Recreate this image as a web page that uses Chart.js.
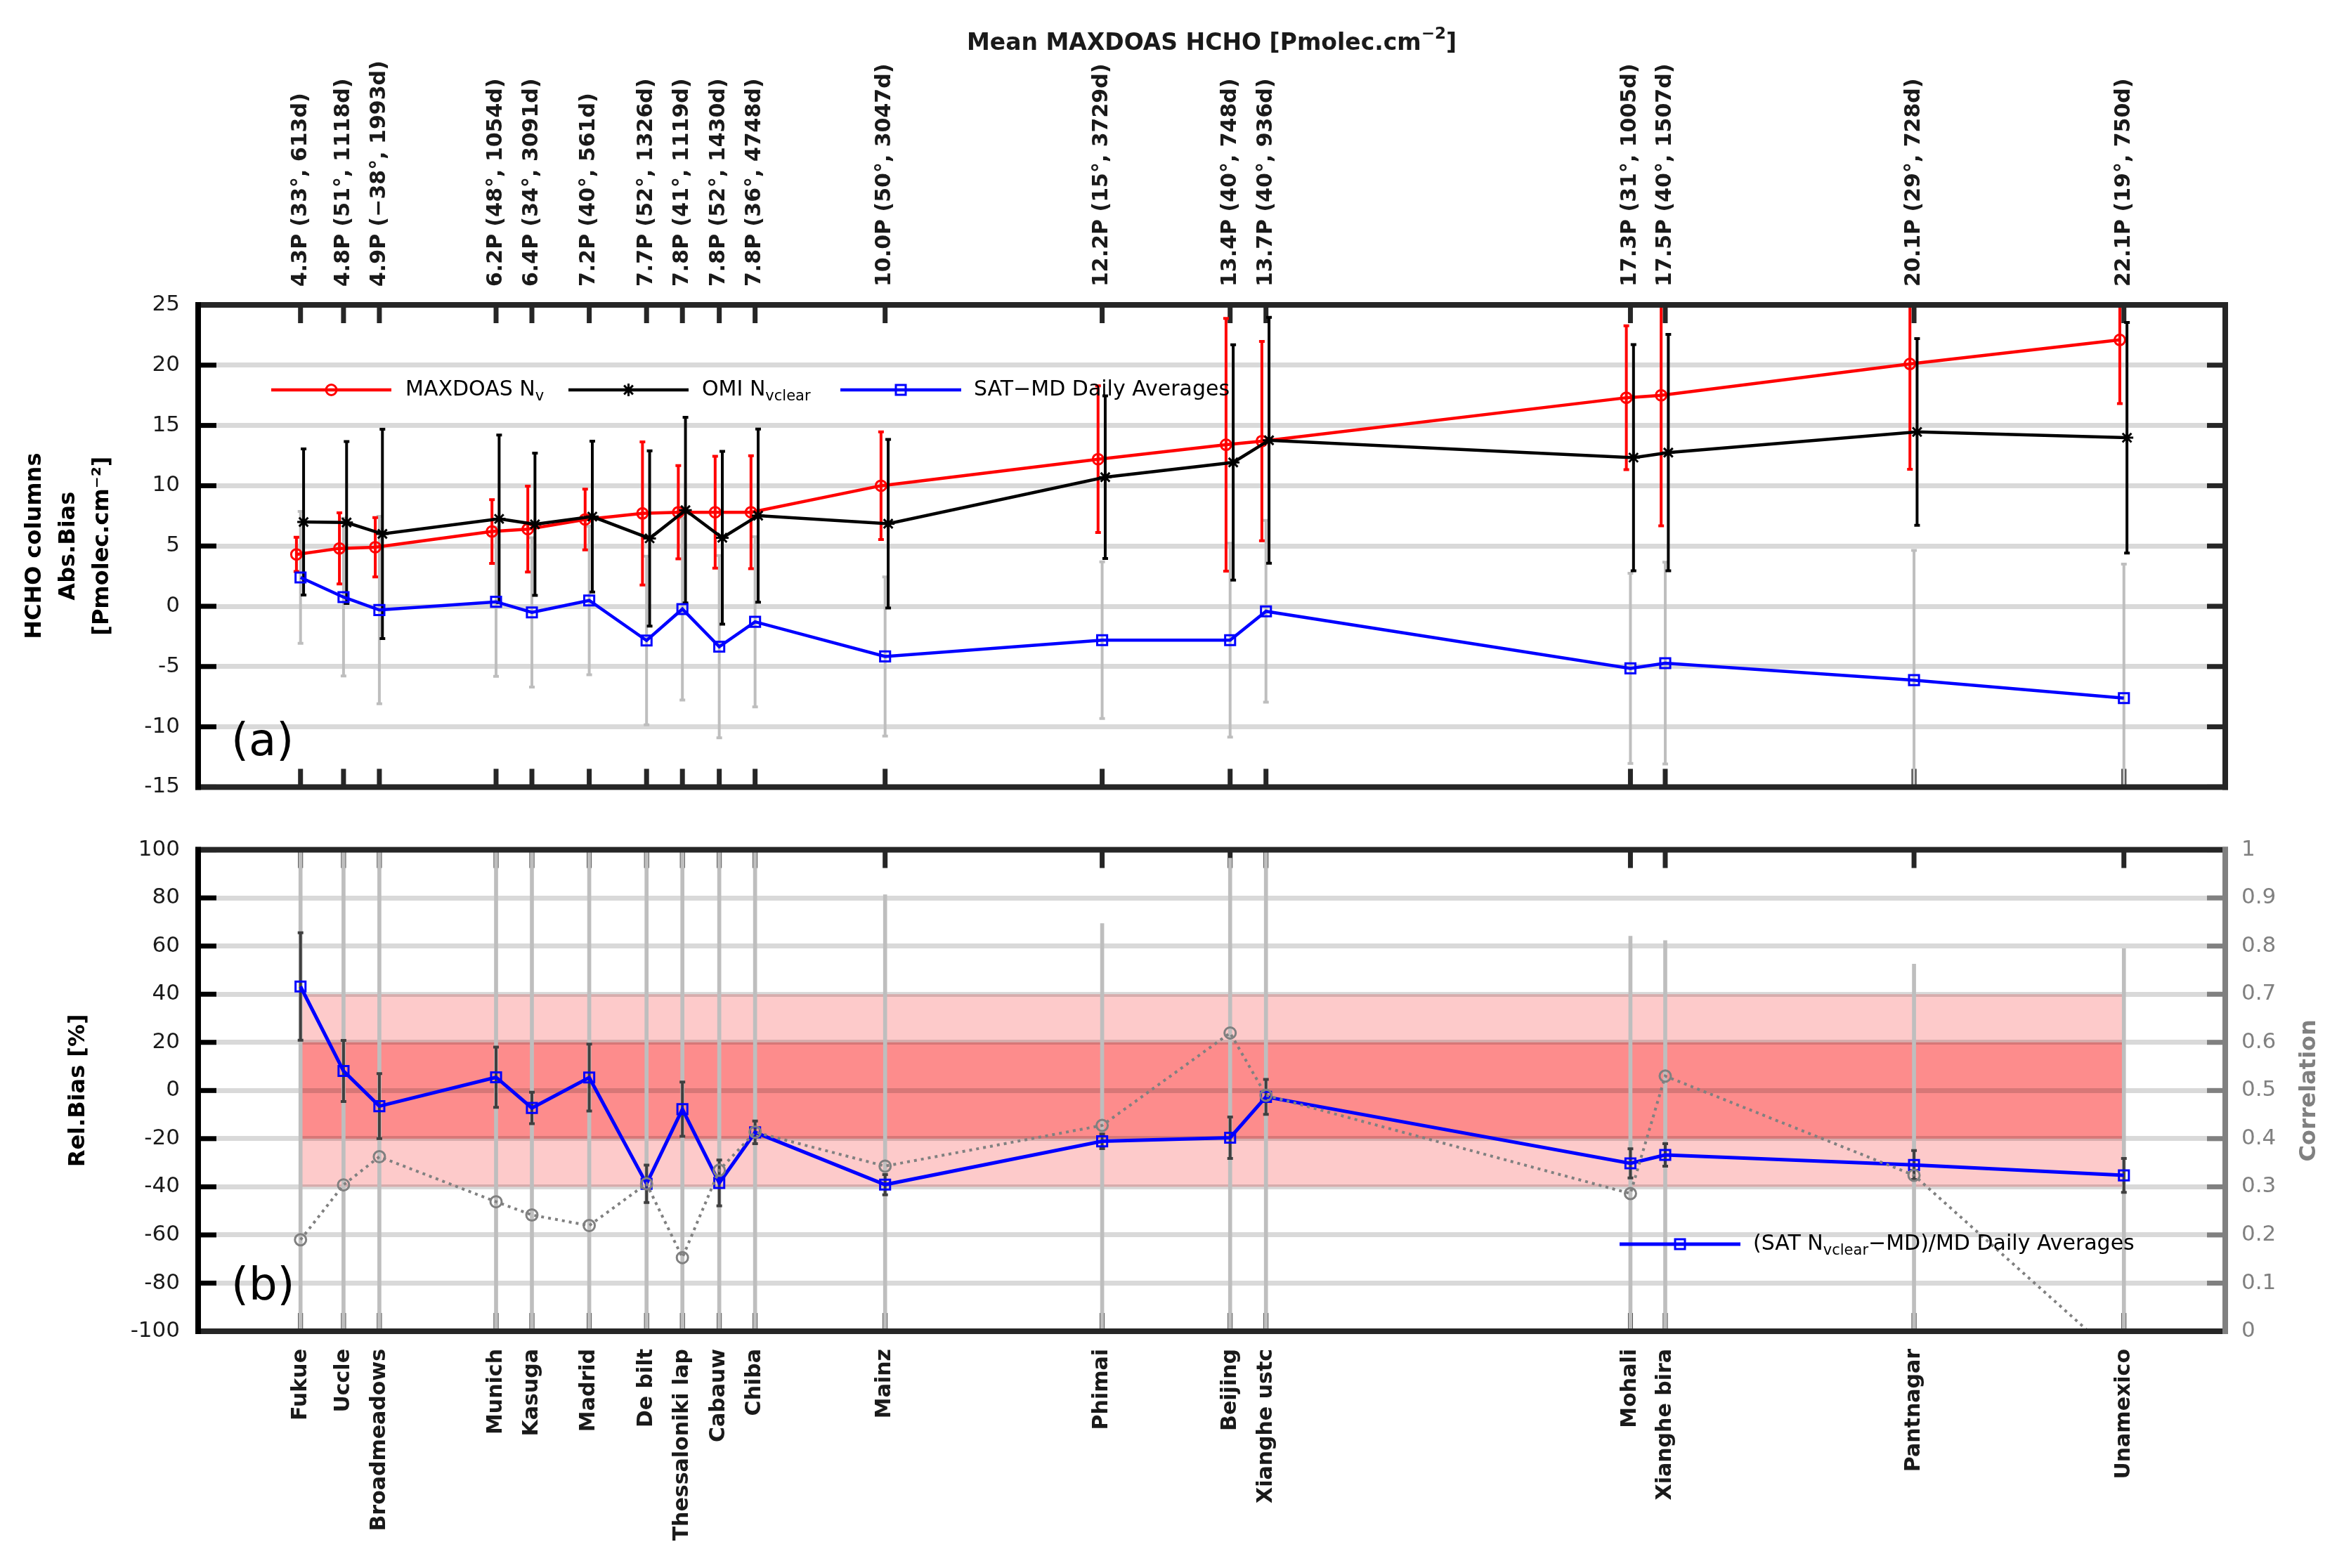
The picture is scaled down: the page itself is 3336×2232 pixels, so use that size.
<!DOCTYPE html>
<html>
<head>
<meta charset="utf-8">
<script src="https://cdn.jsdelivr.net/npm/chart.js@4/dist/chart.umd.min.js"></script>
<style>
html, body { margin: 0; padding: 0; background: #fff; }
#wrap { position: relative; width: 3336px; height: 2232px; }
canvas { position: absolute; left: 0; }
</style>
</head>
<body>
<div id="wrap">
  <canvas id="chartA" width="3336" height="1165" style="top:0"></canvas>
  <canvas id="chartB" width="3336" height="1067" style="top:1165px"></canvas>
</div>
<script>
// sites, in plotting order
const sites = ['Fukue', 'Uccle', 'Broadmeadows', 'Munich', 'Kasuga', 'Madrid', 'De bilt', 'Thessaloniki lap',
  'Cabauw', 'Chiba', 'Mainz', 'Phimai', 'Beijing', 'Xianghe ustc', 'Mohali', 'Xianghe bira', 'Pantnagar', 'Unamexico'];
// position on the mean-HCHO axis (spread a little where sites overlap)
const sitePos = [4.30, 4.72, 5.07, 6.21, 6.56, 7.12, 7.68, 8.03, 8.39, 8.74, 10.01, 12.13, 13.38, 13.73, 17.29, 17.63, 20.06, 22.11];
const mdMean = [4.3, 4.8, 4.9, 6.2, 6.4, 7.2, 7.7, 7.8, 7.8, 7.8, 10.0, 12.2, 13.4, 13.7, 17.3, 17.5, 20.1, 22.1];
const siteLat = [33, 51, -38, 48, 34, 40, 52, 41, 52, 36, 50, 15, 40, 40, 31, 40, 29, 19];
const siteDays = [613, 1118, 1993, 1054, 3091, 561, 1326, 1119, 1430, 4748, 3047, 3729, 748, 936, 1005, 1507, 728, 750];

// panel (a)
const mdSd = [1.42, 2.95, 2.46, 2.65, 3.56, 2.52, 5.94, 3.87, 4.64, 4.68, 4.46, 6.08, 10.48, 8.27, 5.96, 10.83, 8.74, 5.29];
const omiMean = [6.99, 6.95, 6.0, 7.25, 6.8, 7.44, 5.63, 7.97, 5.68, 7.52, 6.85, 10.71, 11.93, 13.77, 12.33, 12.75, 14.46, 13.98];
const omiSd = [6.06, 6.72, 8.68, 6.96, 5.9, 6.26, 7.27, 7.7, 7.17, 7.18, 6.99, 6.75, 9.76, 10.2, 9.38, 9.8, 7.74, 9.57];
const satDiff = [2.39, 0.76, -0.31, 0.37, -0.51, 0.48, -2.84, -0.23, -3.35, -1.29, -4.16, -2.81, -2.81, -0.42, -5.15, -4.72, -6.13, -7.62];
const satDiffSd = [5.47, 6.54, 7.77, 6.18, 6.19, 6.16, 6.99, 7.55, 7.56, 7.06, 6.6, 6.5, 8.04, 7.54, 7.89, 8.37, 10.77, 11.11];

// panel (b)
const relBias = [43.2, 8.1, -6.5, 5.5, -7.25, 5.4, -38.75, -7.75, -38.4, -17.4, -39.1, -21.1, -19.6, -2.65, -30.25, -26.75, -30.95, -35.25];
const relBiasSd = [22.3, 12.7, 13.5, 12.5, 6.55, 13.9, 7.75, 11.25, 9.5, 4.7, 4.2, 3.0, 8.6, 7.25, 6.05, 4.65, 6.05, 7.05];
const corr = [0.19, 0.304, 0.3625, 0.269, 0.2415, 0.2195, 0.3065, 0.153, 0.3345, 0.4135, 0.343, 0.4275, 0.6195, 0.49, 0.286, 0.53, 0.324, -0.066];
const corrStemTop = [105, 105, 105, 105, 105, 105, 105, 105, 105, 105, 81.3, 69.4, 96.5, 105, 64.1, 62.3, 52.5, 58.9];
const bands = [[-40, 40, '#fdcaca'], [-20, 20, '#fd8c8c']];

// axes
const xRange = [3.3, 23.1];
const absTicks = [-15, -10, -5, 0, 5, 10, 15, 20, 25];
const relTicks = [-100, -80, -60, -40, -20, 0, 20, 40, 60, 80, 100];
const corrTicks = [0, 0.1, 0.2, 0.3, 0.4, 0.5, 0.6, 0.7, 0.8, 0.9, 1];

const FONT = 'DejaVu Sans';
const FRAME = '#262626';
Chart.defaults.font.family = FONT;
Chart.defaults.color = '#1a1a1a';

const pts = (ys, shift) => sitePos.map((x, i) => ({ x: x + (shift || 0), y: ys[i] }));

// small marker painter, used by the legends
function marker(ctx, style, x, y, color) {
  ctx.save();
  ctx.strokeStyle = color;
  ctx.lineWidth = 3;
  ctx.beginPath();
  if (style === 'circle') {
    ctx.arc(x, y, 7.5, 0, Math.PI * 2);
  } else if (style === 'rect') {
    ctx.rect(x - 7, y - 7, 14, 14);
  } else {
    const r = 9;
    ctx.moveTo(x - r, y); ctx.lineTo(x + r, y);
    ctx.moveTo(x, y - r); ctx.lineTo(x, y + r);
    const d = r * 0.707;
    ctx.moveTo(x - d, y - d); ctx.lineTo(x + d, y + d);
    ctx.moveTo(x - d, y + d); ctx.lineTo(x + d, y - d);
  }
  ctx.stroke();
  ctx.restore();
}

// text made of pieces (subscripts / superscripts)
function richText(ctx, parts, x, y, align) {
  let w = 0;
  parts.forEach(p => {
    ctx.font = `${p.w || 'normal'} ${p.s}px ${FONT}`;
    p.width = ctx.measureText(p.t).width;
    w += p.width;
  });
  let cx = align === 'center' ? x - w / 2 : x;
  parts.forEach(p => {
    ctx.font = `${p.w || 'normal'} ${p.s}px ${FONT}`;
    ctx.textAlign = 'left';
    ctx.fillText(p.t, cx, y + (p.dy || 0));
    cx += p.width;
  });
}

function legendRow(ctx, items, y) {
  items.forEach(it => {
    ctx.save();
    ctx.strokeStyle = it.color;
    ctx.lineWidth = it.lw;
    ctx.beginPath();
    ctx.moveTo(it.line[0], y);
    ctx.lineTo(it.line[1], y);
    ctx.stroke();
    marker(ctx, it.style, (it.line[0] + it.line[1]) / 2, y, it.color);
    ctx.fillStyle = '#000';
    ctx.textBaseline = 'middle';
    richText(ctx, it.text, it.tx, y, 'left');
    ctx.restore();
  });
}

function drawErrors(chart, ds, meta) {
  const { ctx, chartArea: a } = chart;
  const xs = chart.scales.x;
  const ys = chart.scales[meta.yAxisID];
  ctx.save();
  ctx.beginPath();
  ctx.rect(a.left, a.top, a.right - a.left, a.bottom - a.top);
  ctx.clip();
  ctx.strokeStyle = ds.errColor;
  ctx.lineWidth = ds.errWidth;
  ds.data.forEach((p, i) => {
    const x = xs.getPixelForValue(p.x);
    const y1 = ys.getPixelForValue(p.y - ds.errors[i]);
    const y2 = ys.getPixelForValue(p.y + ds.errors[i]);
    ctx.beginPath();
    ctx.moveTo(x, y1); ctx.lineTo(x, y2);
    ctx.moveTo(x - 4, y1); ctx.lineTo(x + 4, y1);
    ctx.moveTo(x - 4, y2); ctx.lineTo(x + 4, y2);
    ctx.stroke();
  });
  ctx.restore();
}

// panel furniture: bands, error bars, ticks, frame and texts
const panelPlugin = {
  id: 'panel',
  beforeDraw(chart, args, o) {
    if (!o.bands) return;
    const { ctx } = chart;
    const xs = chart.scales.x, ys = chart.scales.y;
    const x1 = xs.getPixelForValue(sitePos[0]);
    const x2 = xs.getPixelForValue(sitePos[sitePos.length - 1]);
    o.bands.forEach(b => {
      const yTop = ys.getPixelForValue(b[1]);
      const yBot = ys.getPixelForValue(b[0]);
      ctx.fillStyle = b[2];
      ctx.fillRect(x1, yTop, x2 - x1, yBot - yTop);
    });
  },
  beforeDatasetsDraw(chart) {
    const { ctx, chartArea: a } = chart;
    const xs = chart.scales.x;
    // site ticks, top and bottom
    ctx.save();
    ctx.fillStyle = FRAME;
    sitePos.forEach(v => {
      const x = xs.getPixelForValue(v);
      ctx.fillRect(x - 3.5, a.top, 7, 26);
      ctx.fillRect(x - 3.5, a.bottom - 26, 7, 26);
    });
    ctx.restore();
    chart.data.datasets.forEach((ds, i) => {
      if (ds.errors && ds.errUnder) drawErrors(chart, ds, chart.getDatasetMeta(i));
    });
  },
  beforeDatasetDraw(chart, args) {
    const ds = chart.data.datasets[args.index];
    if (ds.errors && !ds.errUnder) drawErrors(chart, ds, args.meta);
  },
  afterDraw(chart, args, o) {
    const { ctx, chartArea: a } = chart;
    const ys = chart.scales.y;
    ctx.save();
    // y ticks
    ys.ticks.forEach(t => {
      const y = ys.getPixelForValue(t.value);
      ctx.fillStyle = '#000';
      ctx.fillRect(a.left, y - 3.5, 26, 7);
      ctx.fillStyle = o.rightColor;
      ctx.fillRect(a.right - 26, y - 3.5, 26, 7);
    });
    // frame
    ctx.fillStyle = FRAME;
    ctx.fillRect(a.left - 4, a.top - 4, a.right - a.left + 8, 8);
    ctx.fillRect(a.left - 4, a.bottom - 4, a.right - a.left + 8, 8);
    ctx.fillStyle = '#000';
    ctx.fillRect(a.left - 4, a.top - 4, 8, a.bottom - a.top + 8);
    ctx.fillStyle = o.rightColor;
    ctx.fillRect(a.right - 4, a.top - 4, 8, a.bottom - a.top + 8);

    // panel letter
    ctx.fillStyle = '#000';
    ctx.font = `normal 64px ${FONT}`;
    ctx.textAlign = 'left';
    ctx.textBaseline = 'alphabetic';
    ctx.fillText(o.letter, a.left + 47, a.bottom - 45);

    const xs = chart.scales.x;
    if (o.top) {
      ctx.fillStyle = '#1a1a1a';
      ctx.font = `bold 30px ${FONT}`;
      ctx.textBaseline = 'middle';
      sitePos.forEach((v, i) => {
        const lat = siteLat[i] < 0 ? '\u2212' + Math.abs(siteLat[i]) : siteLat[i];
        ctx.save();
        ctx.translate(xs.getPixelForValue(v), 408);
        ctx.rotate(-Math.PI / 2);
        ctx.textAlign = 'left';
        ctx.fillText(`${mdMean[i].toFixed(1)}P (${lat}\u00b0, ${siteDays[i]}d)`, 0, 0);
        ctx.restore();
      });
      ctx.textBaseline = 'middle';
      richText(ctx, [
        { t: 'Mean MAXDOAS HCHO [Pmolec.cm', s: 33, w: 'bold' },
        { t: '\u22122', s: 23, dy: -13, w: 'bold' },
        { t: ']', s: 33, w: 'bold' }
      ], (a.left + a.right) / 2, 62, 'center');
    }
    if (o.bottom) {
      ctx.fillStyle = '#1a1a1a';
      ctx.font = `bold 30px ${FONT}`;
      ctx.textBaseline = 'middle';
      sitePos.forEach((v, i) => {
        ctx.save();
        ctx.translate(xs.getPixelForValue(v), a.bottom + 25);
        ctx.rotate(-Math.PI / 2);
        ctx.textAlign = 'right';
        ctx.fillText(sites[i], 0, 0);
        ctx.restore();
      });
      // right axis title
      ctx.save();
      ctx.fillStyle = '#808080';
      ctx.font = `bold 32px ${FONT}`;
      ctx.translate(3287, (a.top + a.bottom) / 2);
      ctx.rotate(-Math.PI / 2);
      ctx.textAlign = 'center';
      ctx.fillText('Correlation', 0, 0);
      ctx.restore();
    }
    if (o.legend) legendRow(ctx, o.legend, o.legendY);
    ctx.restore();
  }
};

function yAxis(ticks, title, titlePad) {
  return {
    position: 'left',
    min: ticks[0], max: ticks[ticks.length - 1],
    ticks: { stepSize: ticks[1] - ticks[0], font: { size: 31 }, color: '#1a1a1a', padding: 26 },
    grid: { color: 'rgba(0,0,0,0.15)', lineWidth: 7, drawTicks: false },
    border: { display: false },
    title: { display: true, text: title, color: '#000', font: { size: 32, weight: 'bold', lineHeight: 1.5 }, padding: { top: titlePad } },
    afterFit(s) { s.width = 282; }
  };
}
const xAxis = { type: 'linear', min: xRange[0], max: xRange[1], display: false, offset: false, grid: { offset: false } };

new Chart(document.getElementById('chartA'), {
  type: 'line',
  data: {
    datasets: [
      {
        label: 'MAXDOAS Nv', data: pts(mdMean, -0.04), order: 3,
        borderColor: '#ff0000', borderWidth: 4.5, pointStyle: 'circle', pointRadius: 7.5,
        pointBorderWidth: 3, pointBackgroundColor: 'rgba(0,0,0,0)', pointBorderColor: '#ff0000',
        errors: mdSd, errColor: '#ff0000', errWidth: 4
      },
      {
        label: 'OMI Nvclear', data: pts(omiMean, 0.03), order: 2,
        borderColor: '#000000', borderWidth: 4.5, pointStyle: 'star', pointRadius: 9,
        pointBorderWidth: 3, pointBorderColor: '#000000',
        errors: omiSd, errColor: '#000000', errWidth: 4
      },
      {
        label: 'SAT-MD Daily Averages', data: pts(satDiff), order: 1,
        borderColor: '#0000ff', borderWidth: 4.5, pointStyle: 'rect', pointRadius: 10,
        pointBorderWidth: 3, pointBackgroundColor: 'rgba(0,0,0,0)', pointBorderColor: '#0000ff',
        errors: satDiffSd, errColor: '#bebebe', errWidth: 4, errUnder: true
      }
    ]
  },
  options: {
    responsive: false, maintainAspectRatio: false, animation: false, devicePixelRatio: 1, events: [],
    layout: { padding: { left: 0, right: 169, top: 434, bottom: 20 } },
    scales: {
      x: xAxis,
      y: yAxis(absTicks, ['HCHO columns', 'Abs.Bias', '[Pmolec.cm\u207b\u00b2]'], 26)
    },
    plugins: {
      legend: { display: false }, tooltip: { enabled: false },
      panel: {
        letter: '(a)', rightColor: FRAME, top: true, legendY: 555,
        legend: [
          { line: [386, 557], style: 'circle', color: '#ff0000', lw: 4.5, tx: 577,
            text: [{ t: 'MAXDOAS N', s: 30 }, { t: 'v', s: 21, dy: 10 }] },
          { line: [809, 980], style: 'star', color: '#000000', lw: 4.5, tx: 999,
            text: [{ t: 'OMI N', s: 30 }, { t: 'vclear', s: 21, dy: 10 }] },
          { line: [1196, 1368], style: 'rect', color: '#0000ff', lw: 4.5, tx: 1386,
            text: [{ t: 'SAT\u2212MD Daily Averages', s: 30 }] }
        ]
      }
    }
  },
  plugins: [panelPlugin]
});

new Chart(document.getElementById('chartB'), {
  type: 'line',
  data: {
    datasets: [
      {
        type: 'bar', label: 'stems', order: 5, yAxisID: 'y', clip: 0,
        data: sitePos.map((x, i) => ({ x: x, y: [relTicks[0], corrStemTop[i]] })),
        backgroundColor: '#bebebe', borderWidth: 0, barThickness: 5, grouped: false
      },
      {
        label: '(SAT Nvclear-MD)/MD Daily Averages', data: pts(relBias), order: 2, yAxisID: 'y',
        borderColor: '#0000ff', borderWidth: 5, pointStyle: 'rect', pointRadius: 10,
        pointBorderWidth: 3, pointBackgroundColor: 'rgba(0,0,0,0)', pointBorderColor: '#0000ff',
        errors: relBiasSd, errColor: '#404040', errWidth: 4
      },
      {
        label: 'Correlation', data: pts(corr), order: 1, yAxisID: 'y2',
        borderColor: '#808080', borderWidth: 4, borderDash: [4, 6], pointStyle: 'circle', pointRadius: 8,
        pointBorderWidth: 3, pointBackgroundColor: 'rgba(0,0,0,0)', pointBorderColor: '#808080'
      }
    ]
  },
  options: {
    responsive: false, maintainAspectRatio: false, animation: false, devicePixelRatio: 1, events: [],
    layout: { padding: { left: 0, right: 0, top: 20, bottom: 337 } },
    scales: {
      x: xAxis,
      y: yAxis(relTicks, 'Rel.Bias [%]', 88),
      y2: {
        position: 'right',
        min: corrTicks[0], max: corrTicks[corrTicks.length - 1],
        ticks: {
          stepSize: corrTicks[1] - corrTicks[0], font: { size: 31 }, color: '#808080', padding: 23,
          callback: v => String(+v.toFixed(2))
        },
        grid: { drawOnChartArea: false, drawTicks: false },
        border: { display: false },
        afterFit(s) { s.width = 169; }
      }
    },
    plugins: {
      legend: { display: false }, tooltip: { enabled: false },
      panel: {
        letter: '(b)', rightColor: '#808080', bands: bands, bottom: true, legendY: 606,
        legend: [
          { line: [2305, 2477], style: 'rect', color: '#0000ff', lw: 5, tx: 2495,
            text: [{ t: '(SAT N', s: 30 }, { t: 'vclear', s: 21, dy: 10 }, { t: '\u2212MD)/MD Daily Averages', s: 30 }] }
        ]
      }
    }
  },
  plugins: [panelPlugin]
});
</script>
</body>
</html>
